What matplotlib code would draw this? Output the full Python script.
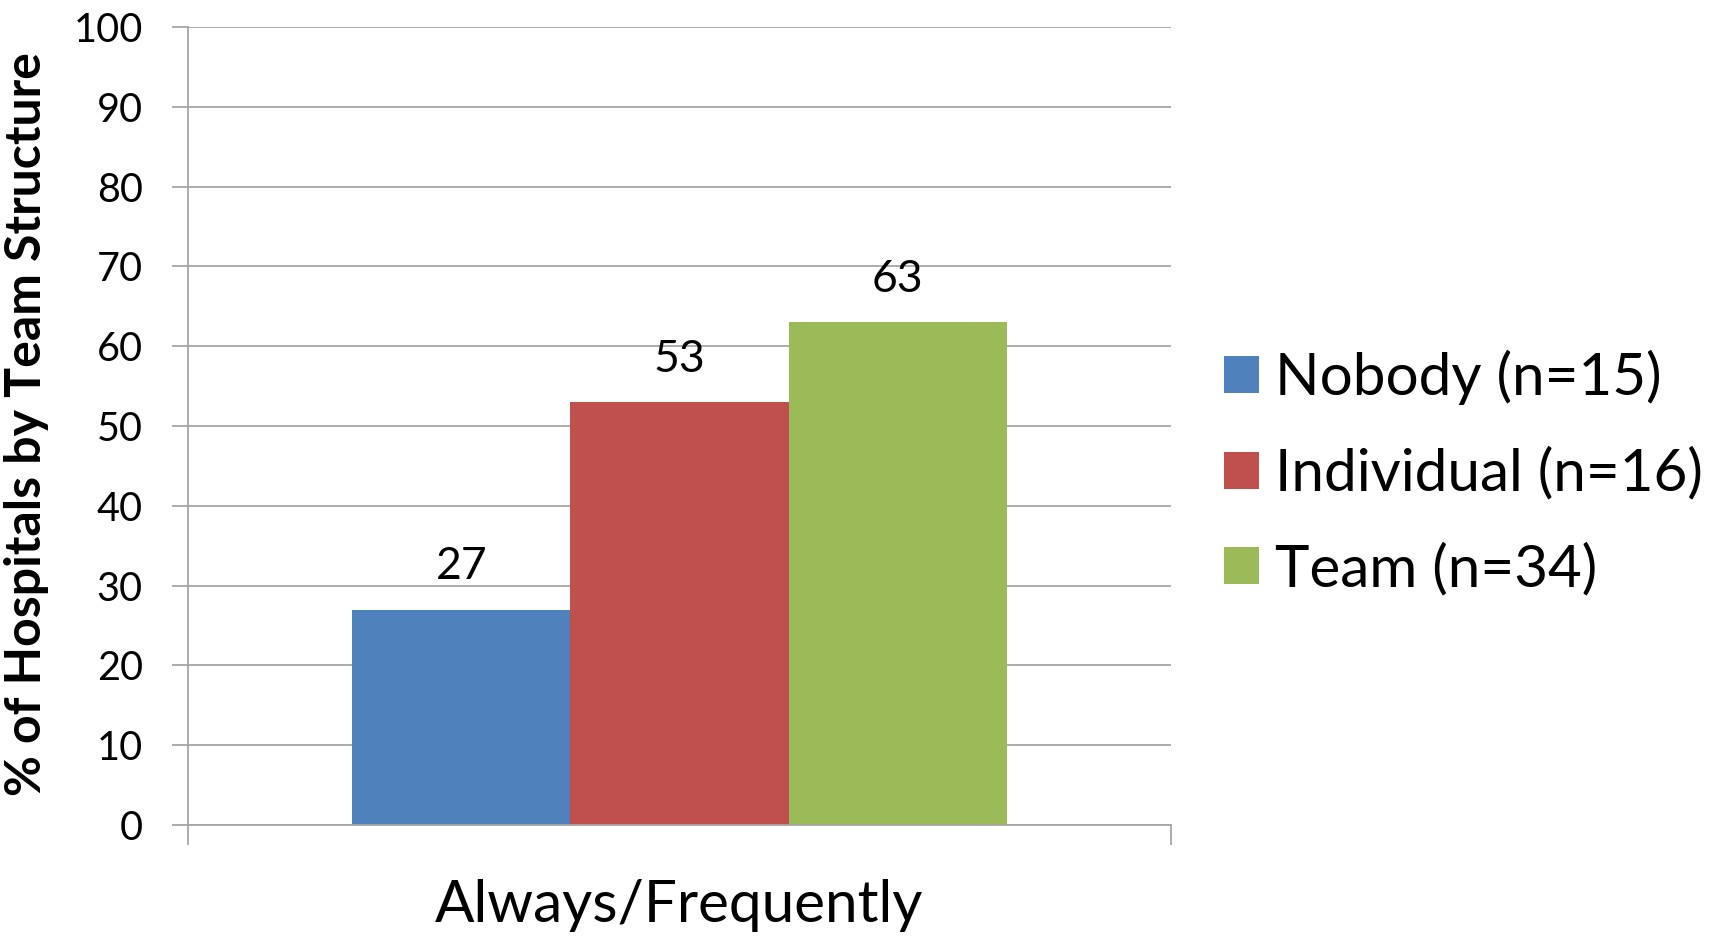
import matplotlib
matplotlib.use("Agg")
import matplotlib.pyplot as plt
from matplotlib.patches import Patch

plt.rcParams['font.family'] = ['Lato', 'DejaVu Sans']

category = 'Always/Frequently'
groups = ['Nobody (n=15)', 'Individual (n=16)', 'Team (n=34)']
values = [27, 53, 63]
colors = ['#4F81BD', '#C0504D', '#9BBB59']
yticks = [0, 10, 20, 30, 40, 50, 60, 70, 80, 90, 100]

grid_col = '#a6a6a6'

fig = plt.figure(figsize=(17.24, 9.36), dpi=100)
ax = fig.add_axes([188/1724, 1 - 825/936, 983/1724, 798/936])

bw = 0.222
offsets = [-bw, 0, bw]
for off, v, c in zip(offsets, values, colors):
    ax.bar(off, v, width=bw, color=c, zorder=2)
    ax.annotate(str(v), (off, v), xytext=(0, 31), textcoords='offset points',
                ha='center', va='center', fontsize=32)

ax.set_xlim(-0.5, 0.5)
ax.set_ylim(0, 100)
ax.set_yticks(yticks)
ax.yaxis.grid(True, color=grid_col, linewidth=1.3, zorder=0)
ax.set_axisbelow(True)
ax.tick_params(axis='y', length=11.5, width=1.3, color=grid_col, pad=21,
               labelsize=28.5, labelcolor='black')

ax.set_xticks([-0.5, 0.5])
ax.set_xticklabels(['', ''])
ax.set_xticks([0], minor=True)
ax.set_xticklabels([category], minor=True)
ax.tick_params(axis='x', which='major', length=14.5, width=1.3, color=grid_col)
ax.tick_params(axis='x', which='minor', length=0, pad=39, labelsize=42)

for s in ['top', 'right']:
    ax.spines[s].set_visible(False)
for s in ['left', 'bottom']:
    ax.spines[s].set_color(grid_col)
    ax.spines[s].set_linewidth(1.3)

fig.text(27/1724, 1 - 424/936, '% of Hospitals by Team Structure', rotation=90,
         ha='center', va='center', fontsize=36, fontweight='bold')

handles = [Patch(facecolor=c, edgecolor='none') for c in colors]
fig.legend(handles, groups, loc='center left', bbox_to_anchor=(1224/1724, 1 - 473/936),
           frameon=False, fontsize=42, handlelength=0.6, handleheight=0.6,
           handletextpad=0.28, labelspacing=0.72, borderpad=0, borderaxespad=0)

fig.savefig('out.png', dpi=100)
